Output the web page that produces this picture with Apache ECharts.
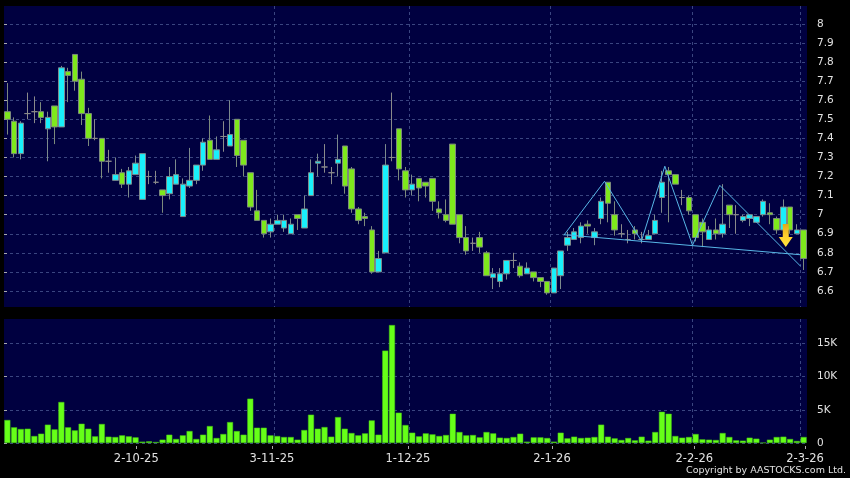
<!DOCTYPE html>
<html>
<head>
<meta charset="utf-8">
<style>html,body{margin:0;padding:0;background:#000}#c{width:850px;height:478px}</style>
<script src="https://cdn.jsdelivr.net/npm/echarts@6/dist/echarts.min.js"></script>
</head>
<body>
<div id="c"></div>
<script>
// Candle values, one entry per trading day
const opens = [7.54,7.49,7.32,7.53,7.54,7.54,7.45,7.57,7.46,7.75,7.84,7.71,7.53,7.40,7.40,7.28,7.18,7.22,7.16,7.21,
7.08,7.20,7.17,7.13,7.11,7.16,6.99,7.15,7.18,7.26,7.39,7.29,7.41,7.36,7.50,7.39,7.22,7.02,6.97,6.91,
6.95,6.93,6.90,7.00,6.93,7.10,7.27,7.25,7.22,7.27,7.36,7.24,7.03,6.99,6.92,6.70,6.80,7.30,7.45,7.23,
7.13,7.19,7.17,7.19,7.03,7.00,7.37,7.00,6.88,6.85,6.88,6.80,6.67,6.65,6.69,6.76,6.73,6.69,6.70,6.67,
6.65,6.59,6.68,6.84,6.87,6.88,6.95,6.88,6.98,7.17,7.00,6.90,6.87,6.92,6.87,6.87,6.90,7.09,7.23,7.21,
7.09,7.09,7.00,6.96,6.87,6.92,6.90,7.05,7.00,6.97,6.98,6.96,7.00,7.01,6.98,6.92,7.04,6.90,6.92];
const closes = [7.50,7.32,7.48,7.53,7.54,7.51,7.51,7.46,7.77,7.73,7.70,7.53,7.40,7.40,7.28,7.28,7.21,7.16,7.23,7.27,
7.32,7.20,7.17,7.10,7.20,7.21,7.16,7.18,7.26,7.38,7.29,7.34,7.41,7.42,7.31,7.26,7.04,6.97,6.90,6.95,
6.97,6.97,6.95,6.98,7.03,7.22,7.28,7.25,7.22,7.29,7.15,7.03,6.97,6.98,6.70,6.77,7.26,7.30,7.24,7.13,
7.16,7.14,7.15,7.07,7.01,6.97,6.95,6.88,6.81,6.85,6.83,6.68,6.69,6.69,6.76,6.76,6.68,6.72,6.67,6.65,
6.59,6.72,6.81,6.88,6.91,6.94,6.94,6.91,7.07,7.06,6.92,6.90,6.87,6.90,6.87,6.89,6.97,7.17,7.21,7.16,
7.09,7.02,6.88,6.91,6.92,6.90,6.95,7.00,7.00,6.99,7.00,6.99,7.07,7.00,6.92,7.04,6.92,6.92,6.77];
const lows = [7.42,7.30,7.29,7.50,7.48,7.48,7.28,7.37,7.46,7.59,7.65,7.47,7.36,7.39,7.19,7.22,7.18,7.14,7.09,7.21,
7.08,7.16,7.16,7.01,7.08,7.16,6.99,7.14,7.16,7.23,7.29,7.29,7.33,7.36,7.25,7.20,7.02,6.97,6.88,6.88,
6.95,6.91,6.90,6.92,6.93,7.10,7.20,7.22,7.16,7.20,7.11,7.01,6.95,6.94,6.69,6.70,6.80,7.28,7.18,7.09,
7.10,7.07,7.09,7.02,6.98,6.96,6.95,6.85,6.79,6.81,6.80,6.68,6.61,6.62,6.66,6.72,6.67,6.69,6.65,6.62,
6.58,6.59,6.61,6.81,6.87,6.85,6.90,6.84,6.95,6.96,6.89,6.88,6.85,6.87,6.85,6.87,6.90,7.01,6.96,7.16,
7.05,7.00,6.86,6.83,6.87,6.87,6.88,6.93,6.90,6.96,6.94,6.96,6.99,6.95,6.90,6.92,6.90,6.90,6.71];
const highs = [7.69,7.51,7.49,7.64,7.62,7.59,7.54,7.57,7.78,7.77,7.84,7.75,7.56,7.50,7.40,7.34,7.30,7.24,7.25,7.31,
7.32,7.23,7.23,7.13,7.25,7.29,7.19,7.35,7.26,7.40,7.52,7.41,7.49,7.60,7.50,7.39,7.22,7.13,6.97,6.98,
7.00,7.00,6.98,7.00,7.10,7.29,7.32,7.37,7.25,7.42,7.36,7.25,7.04,7.01,6.94,6.81,7.37,7.64,7.45,7.25,
7.21,7.19,7.17,7.19,7.07,7.08,7.37,7.00,6.94,6.88,6.91,6.81,6.72,6.72,6.76,6.80,6.75,6.75,6.70,6.67,
6.65,6.72,6.81,6.91,6.93,6.96,6.97,6.93,7.09,7.17,7.07,6.95,6.92,6.94,6.91,6.92,7.00,7.23,7.25,7.21,
7.13,7.10,7.00,6.98,6.94,6.98,7.16,7.05,7.05,7.00,7.00,6.99,7.08,7.06,6.99,7.08,7.04,6.95,6.92];
const volumes = [3460,2360,2100,2150,1050,1400,2760,2050,6170,2360,1900,2900,2150,1000,2860,950,900,1150,1000,850,
200,250,150,500,1250,600,1150,1800,600,1250,2550,750,1350,3150,1800,1250,6670,2300,2300,1150,
1050,900,900,500,1950,4260,2150,2400,950,3900,2150,1500,1150,1450,3400,1250,13900,17750,4560,2700,
1550,1000,1450,1300,1050,1200,4400,1650,1150,1200,850,1650,1450,800,750,900,1400,200,850,850,
750,200,1550,700,950,750,800,900,2760,950,700,450,750,400,950,350,1650,4700,4400,1050,
800,900,1350,550,500,450,1500,900,400,350,800,650,50,500,900,950,600,300,900];
const categories = opens.map((_, i) => String(i));

// Chart pattern drawn over the candles, positions counted in day slots
const patternX = [82.96,88.99,94.47,97.93,102.03,106.07,118.02];
const patternY = [6.892,7.175,6.862,7.254,6.84,7.154,6.731];
const necklineX = [82.96,118];
const necklineY = [6.895,6.79];
const arrowX = [115.85];
const arrowY = [6.891];

// Axis labels
const priceTicks = [6.6,6.7,6.8,6.9,7,7.1,7.2,7.3,7.4,7.5,7.6,7.7,7.8,7.9,8];
const volumeTicks = [0,5000,10000,15000];
const volumeTickLabels = ['0','5K','10K','15K'];
const dateSlots = [19.6,39.7,59.85,81.2,102.3,118.7];
const dateLabels = ['2-10-25','3-11-25','1-12-25','2-1-26','2-2-26','2-3-26'];
const gridDays = [20,40,60,81,102,118];

const gridLine = {show:true, lineStyle:{color:'#3a4580', width:1, type:[3,3]}};
const textColor = '#e2e2e2';
const font = '"DejaVu Sans", sans-serif';
const vertical = {
  show:true, showMinLine:false, showMaxLine:false,
  interval:(i)=>gridDays.includes(i),
  lineStyle:gridLine.lineStyle
};
const slotAxis = (gridIndex, position) => ({
  type:'value', gridIndex, position, min:0, max:119,
  axisLine:{show:false}, axisTick:{show:false}, axisLabel:{show:false}, splitLine:{show:false}
});
const dayAxis = (gridIndex, position) => ({
  type:'category', gridIndex, position, data:categories, boundaryGap:true,
  axisLine:{show:false}, axisTick:{show:false}, axisLabel:{show:false}, splitLine:vertical
});

const chart = echarts.init(document.getElementById('c'), null, {renderer:'canvas'});
chart.setOption({
  animation:false,
  backgroundColor:'#000',
  graphic:[{type:'text', right:4, top:466, silent:true,
    style:{text:'Copyright by AASTOCKS.com Ltd.', fill:textColor, font:'9.5px '+font}}],
  grid:[
    {left:4, right:43, top:6, height:301, show:true, backgroundColor:'#000040', borderWidth:0},
    {left:4, right:43, top:319, height:124, show:true, backgroundColor:'#000040', borderWidth:0}
  ],
  xAxis:[
    dayAxis(0,'bottom'),
    dayAxis(1,'top'),
    slotAxis(0,'top'),
    Object.assign(slotAxis(1,'bottom'),{
      offset:3,
      axisTick:{show:true, length:3, customValues:dateSlots, lineStyle:{color:'#aaa'}},
      axisLabel:{show:true, customValues:dateSlots, margin:7, color:textColor, fontSize:11.5, fontFamily:font,
        formatter:(v)=>dateLabels[dateSlots.indexOf(v)]}
    })
  ],
  yAxis:[
    {type:'value', gridIndex:0, position:'right', offset:4, min:6.516, max:8.094,
     axisLine:{show:false},
     axisTick:{show:true, length:3, customValues:priceTicks, lineStyle:{color:'#aaa'}},
     axisLabel:{show:true, customValues:priceTicks, margin:6, color:textColor, fontSize:10.5, fontFamily:font,
       padding:[2,0,0,0], formatter:(v)=>String(v)},
     splitLine:gridLine},
    {type:'value', gridIndex:1, position:'right', offset:4, min:0, max:18660,
     axisLine:{show:false},
     axisTick:{show:true, length:3, customValues:volumeTicks, lineStyle:{color:'#aaa'}},
     axisLabel:{show:true, customValues:volumeTicks, margin:6, color:textColor, fontSize:10.5, fontFamily:font,
       padding:[2,0,0,0], formatter:(v)=>volumeTickLabels[volumeTicks.indexOf(v)]},
     splitLine:gridLine}
  ],
  series:[
    {type:'candlestick', xAxisIndex:0, yAxisIndex:0, barWidth:6, silent:true,
     data:opens.map((o,i)=>[o,closes[i],lows[i],highs[i]]),
     itemStyle:{color:'#19f0fb', color0:'#7ee81c', borderColor:'#7c8a8c', borderColor0:'#7c8a7c', borderColorDoji:'#8a8a8a', borderWidth:1}},
    {type:'bar', xAxisIndex:1, yAxisIndex:1, barWidth:6, silent:true, data:volumes,
     itemStyle:{color:'#66ff18', borderColor:'#45c014', borderWidth:0.5}},
    {type:'line', xAxisIndex:2, yAxisIndex:0, silent:true, showSymbol:false, z:5,
     data:patternX.map((x,i)=>[x,patternY[i]]), lineStyle:{color:'#58b6e6', width:1}},
    {type:'line', xAxisIndex:2, yAxisIndex:0, silent:true, showSymbol:false, z:5,
     data:necklineX.map((x,i)=>[x,necklineY[i]]), lineStyle:{color:'#58b6e6', width:1}},
    {type:'scatter', xAxisIndex:2, yAxisIndex:0, silent:true, z:6,
     data:arrowX.map((x,i)=>[x,arrowY[i]]),
     symbol:'path://M4,0 H10 V13 H14 L7,23 L0,13 H4 Z', symbolSize:[14,23],
     itemStyle:{opacity:1, color:new echarts.graphic.LinearGradient(0,0,0,1,[{offset:0,color:'#e0a818'},{offset:0.5,color:'#ffcf2c'},{offset:1,color:'#ffe63f'}])}}
  ]
});
</script>
</body>
</html>
